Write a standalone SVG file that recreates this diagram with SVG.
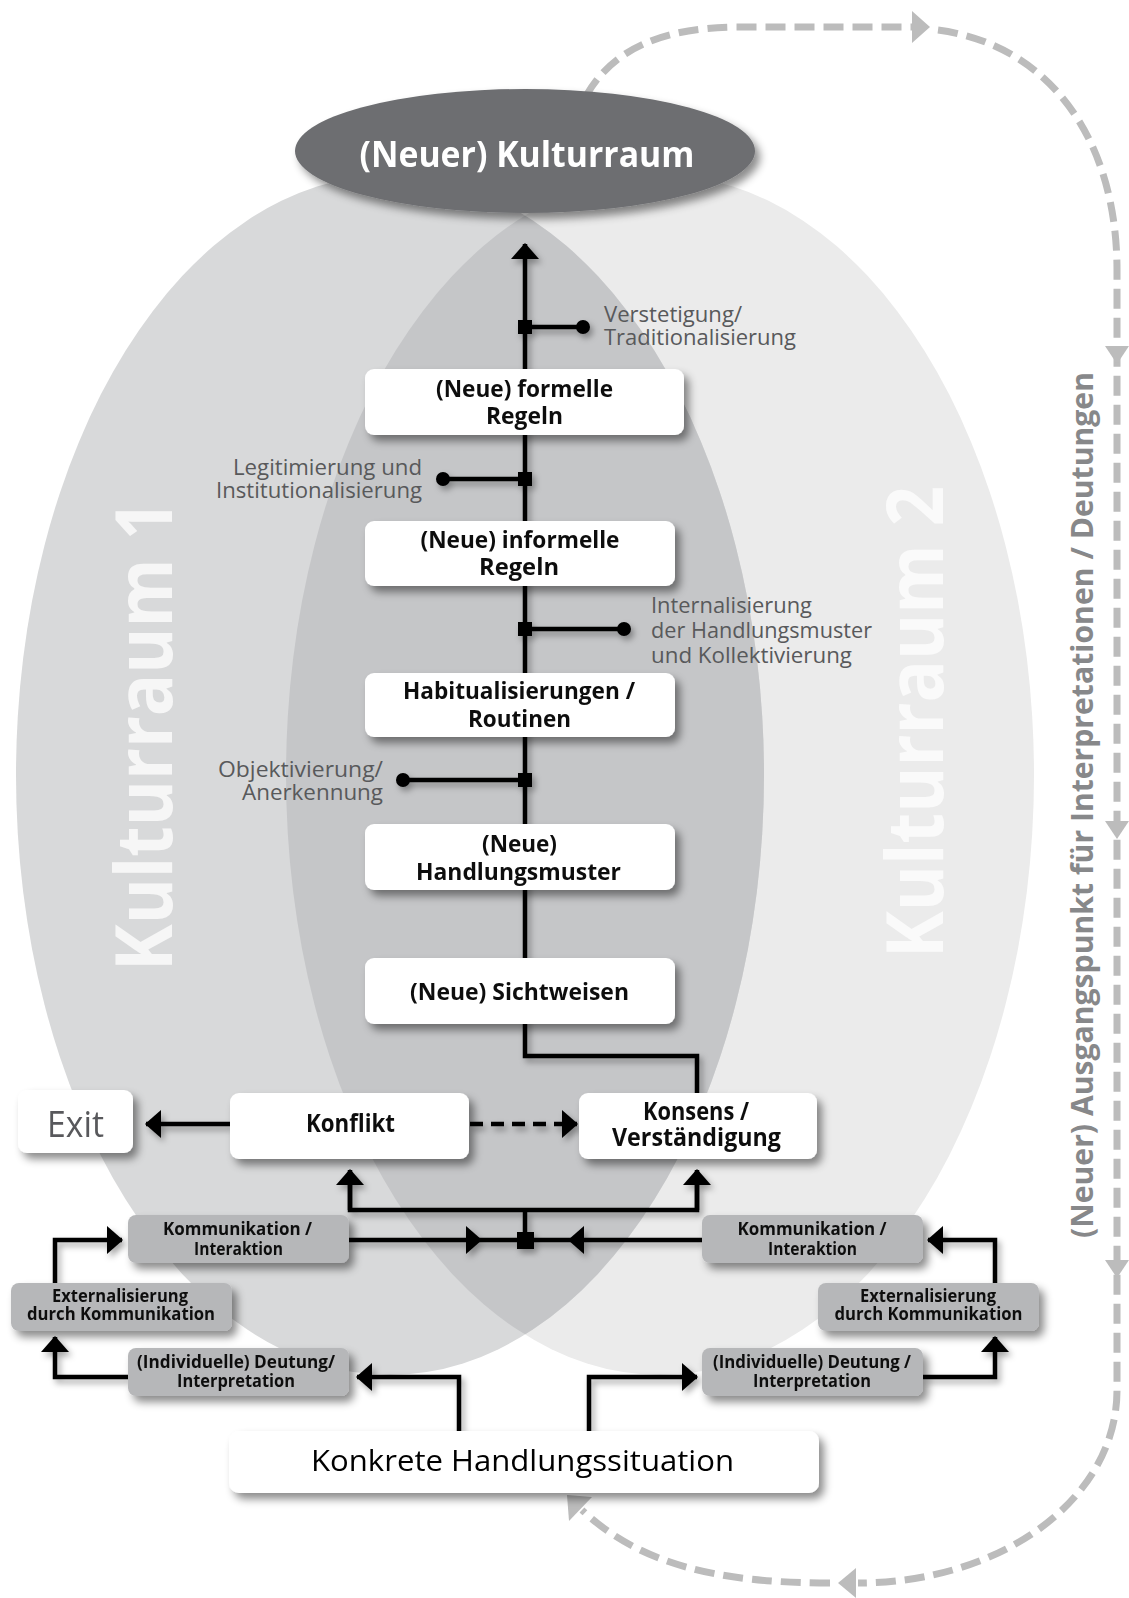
<svg xmlns="http://www.w3.org/2000/svg" width="1129" height="1598" viewBox="0 0 1129 1598">
<style>
.box{fill:#ffffff}
.gbox{fill:#b6b7b9}
.t{font-family:"Open Sans","Noto Sans","DejaVu Sans",sans-serif}
.lbl{font-family:"Open Sans","Noto Sans","DejaVu Sans",sans-serif;font-weight:700;font-size:23px;fill:#111;text-anchor:middle}
.big{font-family:"Open Sans","Noto Sans","DejaVu Sans",sans-serif;font-weight:700;font-size:25px;fill:#111;text-anchor:middle}
.sm{font-family:"Open Sans","Noto Sans","DejaVu Sans",sans-serif;font-weight:700;font-size:17px;fill:#111;text-anchor:middle}
.ann{font-family:"Open Sans","Noto Sans","DejaVu Sans",sans-serif;font-weight:400;font-size:22px;fill:#58595b}
.ln{fill:none;stroke:#000;stroke-width:4.5}
.dash{fill:none;stroke:#bcbcbc;stroke-width:7;stroke-dasharray:20 9}
.gah{fill:#bcbcbc}
</style>
<defs>
<filter id="sh" x="-20%" y="-30%" width="150%" height="180%">
<feDropShadow dx="5" dy="6" stdDeviation="4" flood-color="#000" flood-opacity="0.45"/>
</filter>
<filter id="lsh" x="-10%" y="-10%" width="130%" height="130%">
<feDropShadow dx="3" dy="4" stdDeviation="3" flood-color="#000" flood-opacity="0.35"/>
</filter>
<marker id="ah" viewBox="0 0 16 28" refX="15" refY="14" markerWidth="16" markerHeight="28" orient="auto" markerUnits="userSpaceOnUse">
<path d="M0 0 L16 14 L0 28 z" fill="#000"/>
</marker>
<clipPath id="clipR"><ellipse cx="660" cy="775" rx="374" ry="600"/></clipPath>
</defs>

<g id="background">
<ellipse id="kulturraum2-area" cx="660" cy="775" rx="374" ry="600" fill="#ebebeb"/>
<ellipse id="kulturraum1-area" cx="390" cy="775" rx="374" ry="600" fill="#d8d9da"/>
<ellipse id="overlap" cx="390" cy="775" rx="374" ry="600" fill="#c5c6c8" clip-path="url(#clipR)"/>
<text class="t" transform="translate(172,735.5) rotate(-90)" font-size="78" font-weight="700" fill="#f6f6f6" text-anchor="middle" textLength="471" lengthAdjust="spacingAndGlyphs">Kulturraum 1</text>
<text class="t" transform="translate(943,722) rotate(-90)" font-size="78" font-weight="700" fill="#fafafa" text-anchor="middle" textLength="472" lengthAdjust="spacingAndGlyphs">Kulturraum 2</text>
</g>

<g id="feedback-loop">
<path class="dash" d="M586 96 C612 50 660 28 735 27 L912 27"/>
<polygon class="gah" points="912,11 930,27 912,43"/>
<path class="dash" d="M938 30 C1050 45 1117 140 1117 270 L1117 1390 C1117 1500 1000 1583 858 1583"/>
<polygon class="gah" points="1105,346 1117,364 1129,346"/>
<polygon class="gah" points="1105,821 1117,839 1129,821"/>
<polygon class="gah" points="1105,1260 1117,1278 1129,1260"/>
<polygon class="gah" points="856,1568 838,1583 856,1598"/>
<path class="dash" d="M830 1583 C720 1583 640 1565 582 1510"/>
<polygon class="gah" points="567,1495 592,1497 569,1521"/>
<text class="t" transform="translate(1093,805) rotate(-90)" font-size="30" font-weight="700" fill="#87888a" text-anchor="middle" textLength="866" lengthAdjust="spacingAndGlyphs">(Neuer) Ausgangspunkt für Interpretationen / Deutungen</text>
</g>

<g id="connectors" filter="url(#lsh)">
<path class="ln" d="M697 1093 V1056 H525 V244" marker-end="url(#ah)"/>
<path class="ln" d="M525 327 H583"/>
<rect x="518" y="320" width="14" height="14"/>
<circle cx="583" cy="327" r="7"/>
<path class="ln" d="M525 479 H443"/>
<rect x="518" y="472" width="14" height="14"/>
<circle cx="443" cy="479" r="7"/>
<path class="ln" d="M525 629 H624"/>
<rect x="518" y="622" width="14" height="14"/>
<circle cx="624" cy="629" r="7"/>
<path class="ln" d="M525 780 H403"/>
<rect x="518" y="773" width="14" height="14"/>
<circle cx="403" cy="780" r="7"/>
<path class="ln" d="M230 1124 H146" marker-end="url(#ah)"/>
<path class="ln" d="M470 1124 H577" stroke-dasharray="13 8" marker-end="url(#ah)"/>
<path class="ln" d="M525 1240 V1210"/>
<path class="ln" d="M350 1172 V1210 H697 V1172"/>
<path class="ln" d="M350 1210 V1170" marker-end="url(#ah)"/>
<path class="ln" d="M697 1210 V1170" marker-end="url(#ah)"/>
<path class="ln" d="M349 1240 H702"/>
<polygon points="466,1226 482,1240 466,1254"/>
<polygon points="584,1226 568,1240 584,1254"/>
<rect x="517" y="1232" width="17" height="17"/>
<path class="ln" d="M128 1377 H55 V1337" marker-end="url(#ah)"/>
<path class="ln" d="M55 1283 V1240 H122" marker-end="url(#ah)"/>
<path class="ln" d="M923 1377 H995 V1337" marker-end="url(#ah)"/>
<path class="ln" d="M995 1283 V1240 H928" marker-end="url(#ah)"/>
<path class="ln" d="M459 1431 V1377 H357" marker-end="url(#ah)"/>
<path class="ln" d="M589 1431 V1377 H697" marker-end="url(#ah)"/>
</g>

<g id="annotations">
<text class="ann" x="604" y="322" textLength="138" lengthAdjust="spacingAndGlyphs">Verstetigung/</text>
<text class="ann" x="604" y="345" textLength="192" lengthAdjust="spacingAndGlyphs">Traditionalisierung</text>
<text class="ann" x="422" y="475" text-anchor="end" textLength="189" lengthAdjust="spacingAndGlyphs">Legitimierung und</text>
<text class="ann" x="422" y="498" text-anchor="end" textLength="206" lengthAdjust="spacingAndGlyphs">Institutionalisierung</text>
<text class="ann" x="651" y="613" textLength="161" lengthAdjust="spacingAndGlyphs">Internalisierung</text>
<text class="ann" x="651" y="638" textLength="221" lengthAdjust="spacingAndGlyphs">der Handlungsmuster</text>
<text class="ann" x="651" y="663" textLength="201" lengthAdjust="spacingAndGlyphs">und Kollektivierung</text>
<text class="ann" x="383" y="777" text-anchor="end" textLength="165" lengthAdjust="spacingAndGlyphs">Objektivierung/</text>
<text class="ann" x="383" y="800" text-anchor="end" textLength="141" lengthAdjust="spacingAndGlyphs">Anerkennung</text>
</g>

<g id="node-kulturraum" filter="url(#sh)">
<ellipse cx="525" cy="151" rx="230" ry="62" fill="#6d6e71"/>
<text class="t" x="527" y="167" font-size="36" font-weight="700" fill="#ffffff" text-anchor="middle" textLength="335" lengthAdjust="spacingAndGlyphs">(Neuer) Kulturraum</text>
</g>

<g id="node-formelle" filter="url(#sh)">
<rect class="box" x="365" y="369" width="319" height="66" rx="9"/>
<text class="lbl" x="524.5" y="397" textLength="177" lengthAdjust="spacingAndGlyphs">(Neue) formelle</text>
<text class="lbl" x="524.5" y="424" textLength="77" lengthAdjust="spacingAndGlyphs">Regeln</text>
</g>

<g id="node-informelle" filter="url(#sh)">
<rect class="box" x="365" y="521" width="310" height="65" rx="9"/>
<text class="lbl" x="520" y="548" textLength="199" lengthAdjust="spacingAndGlyphs">(Neue) informelle</text>
<text class="lbl" x="519" y="575" textLength="80" lengthAdjust="spacingAndGlyphs">Regeln</text>
</g>

<g id="node-habitualisierungen" filter="url(#sh)">
<rect class="box" x="365" y="673" width="310" height="64" rx="9"/>
<text class="lbl" x="519" y="699" textLength="232" lengthAdjust="spacingAndGlyphs">Habitualisierungen /</text>
<text class="lbl" x="519.5" y="727" textLength="103" lengthAdjust="spacingAndGlyphs">Routinen</text>
</g>

<g id="node-handlungsmuster" filter="url(#sh)">
<rect class="box" x="365" y="824" width="310" height="66" rx="9"/>
<text class="lbl" x="519.5" y="852" textLength="75" lengthAdjust="spacingAndGlyphs">(Neue)</text>
<text class="lbl" x="518.5" y="880" textLength="205" lengthAdjust="spacingAndGlyphs">Handlungsmuster</text>
</g>

<g id="node-sichtweisen" filter="url(#sh)">
<rect class="box" x="365" y="958" width="310" height="66" rx="9"/>
<text class="lbl" x="519.5" y="1000" textLength="219" lengthAdjust="spacingAndGlyphs">(Neue) Sichtweisen</text>
</g>

<g id="node-exit" filter="url(#sh)">
<rect class="box" x="18" y="1090" width="115" height="63" rx="9"/>
<text class="t" x="75.5" y="1137" font-size="36" font-weight="400" fill="#58595b" text-anchor="middle" textLength="57" lengthAdjust="spacingAndGlyphs">Exit</text>
</g>

<g id="node-konflikt" filter="url(#sh)">
<rect class="box" x="230" y="1093" width="239" height="66" rx="9"/>
<text class="big" x="350.5" y="1132" textLength="89" lengthAdjust="spacingAndGlyphs">Konflikt</text>
</g>

<g id="node-konsens" filter="url(#sh)">
<rect class="box" x="579" y="1093" width="238" height="66" rx="9"/>
<text class="big" x="696" y="1120" textLength="106" lengthAdjust="spacingAndGlyphs">Konsens /</text>
<text class="big" x="696.5" y="1146" textLength="169" lengthAdjust="spacingAndGlyphs">Verständigung</text>
</g>

<g id="node-kommunikation-1" filter="url(#sh)">
<rect class="gbox" x="128" y="1215" width="221" height="48" rx="8"/>
<text class="sm" x="237.5" y="1235" textLength="149" lengthAdjust="spacingAndGlyphs">Kommunikation /</text>
<text class="sm" x="238.5" y="1255" textLength="89" lengthAdjust="spacingAndGlyphs">Interaktion</text>
</g>

<g id="node-externalisierung-1" filter="url(#sh)">
<rect class="gbox" x="11" y="1283" width="221" height="48" rx="8"/>
<text class="sm" x="120" y="1302" textLength="136" lengthAdjust="spacingAndGlyphs">Externalisierung</text>
<text class="sm" x="121" y="1320" textLength="188" lengthAdjust="spacingAndGlyphs">durch Kommunikation</text>
</g>

<g id="node-deutung-1" filter="url(#sh)">
<rect class="gbox" x="128" y="1348" width="221" height="48" rx="8"/>
<text class="sm" x="236" y="1368" textLength="198" lengthAdjust="spacingAndGlyphs">(Individuelle) Deutung/</text>
<text class="sm" x="236" y="1387" textLength="118" lengthAdjust="spacingAndGlyphs">Interpretation</text>
</g>

<g id="node-kommunikation-2" filter="url(#sh)">
<rect class="gbox" x="702" y="1215" width="221" height="48" rx="8"/>
<text class="sm" x="812" y="1235" textLength="149" lengthAdjust="spacingAndGlyphs">Kommunikation /</text>
<text class="sm" x="812.5" y="1255" textLength="89" lengthAdjust="spacingAndGlyphs">Interaktion</text>
</g>

<g id="node-externalisierung-2" filter="url(#sh)">
<rect class="gbox" x="818" y="1283" width="221" height="48" rx="8"/>
<text class="sm" x="928" y="1302" textLength="136" lengthAdjust="spacingAndGlyphs">Externalisierung</text>
<text class="sm" x="928.5" y="1320" textLength="188" lengthAdjust="spacingAndGlyphs">durch Kommunikation</text>
</g>

<g id="node-deutung-2" filter="url(#sh)">
<rect class="gbox" x="702" y="1348" width="221" height="48" rx="8"/>
<text class="sm" x="812" y="1368" textLength="198" lengthAdjust="spacingAndGlyphs">(Individuelle) Deutung /</text>
<text class="sm" x="812" y="1387" textLength="118" lengthAdjust="spacingAndGlyphs">Interpretation</text>
</g>

<g id="node-konkrete" filter="url(#sh)">
<rect class="box" x="229" y="1431" width="590" height="62" rx="10"/>
<text class="t" x="522.5" y="1471" font-size="30" font-weight="400" fill="#000" text-anchor="middle" textLength="423" lengthAdjust="spacingAndGlyphs">Konkrete Handlungssituation</text>
</g>
</svg>
